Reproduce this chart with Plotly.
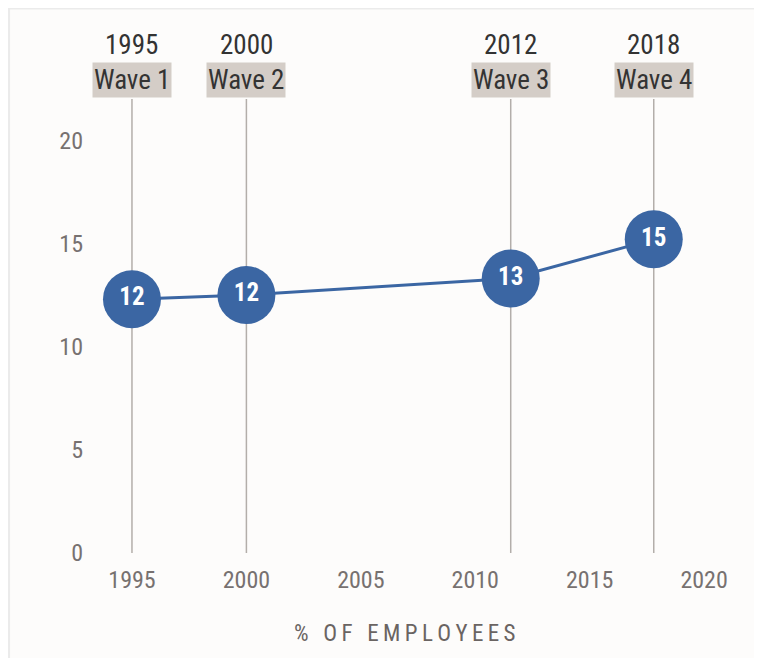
import plotly.graph_objects as go

years = [1995, 2000, 2011.55, 2017.8]
year_labels = ["1995", "2000", "2012", "2018"]
wave_labels = ["Wave 1", "Wave 2", "Wave 3", "Wave 4"]
values = [12.3, 12.5, 13.3, 15.2]
value_labels = ["12", "12", "13", "15"]
x_ticks = [1995, 2000, 2005, 2010, 2015, 2020]
y_ticks = [0, 5, 10, 15, 20]

FONT = "Roboto Condensed, Liberation Sans Narrow, Roboto, sans-serif"
BLUE = "#3b66a3"

OFF = 8  # page body margin
W, H = 762 - OFF, 658 - OFF
PX_PER_YEAR = 22.9
PLOT_LEFT = 86  # reference screen px
X_RANGE = [1995 - (132 - PLOT_LEFT) / PX_PER_YEAR, 2021.7]
ML = PLOT_LEFT - OFF
MT = 99 - OFF
MB = H - (553 - OFF)
pw = (X_RANGE[1] - X_RANGE[0]) * PX_PER_YEAR
MR = W - ML - pw
ph = H - MT - MB


def py(px):
    """reference screen y pixel -> paper coordinate"""
    return (553 - px) / ph


def pxp(px):
    return ((px - OFF) - ML) / pw


fig = go.Figure()
fig.add_trace(go.Scatter(
    x=years, y=values, mode="lines+markers+text",
    line=dict(color=BLUE, width=3),
    marker=dict(size=58, color=BLUE),
    text=value_labels, textposition="middle center",
    textfont=dict(family=FONT, size=25, color="white", weight="bold"),
    hoverinfo="skip", showlegend=False, cliponaxis=False,
))

shapes = []
shapes.append(dict(type="rect", xref="paper", yref="paper",
                   x0=pxp(9), x1=pxp(757), y0=py(700), y1=py(8.5),
                   line=dict(color="#ebebeb", width=2), fillcolor="#fdfcfb", layer="below"))
for x in years:
    shapes.append(dict(type="line", xref="x", yref="y", x0=x, x1=x, y0=0, y1=22,
                       line=dict(color="#b3aeaa", width=1.5), layer="below"))

annotations = []
for x, yl, wl in zip(years, year_labels, wave_labels):
    annotations.append(dict(x=x, xref="x", y=py(45), yref="paper",
                            text=yl, showarrow=False, yanchor="middle",
                            font=dict(family=FONT, size=27, color="#333333")))
    annotations.append(dict(x=x, xref="x", y=py(80), yref="paper",
                            text=wl, showarrow=False, yanchor="middle",
                            bgcolor="#d4cdc7", borderpad=1,
                            font=dict(family=FONT, size=27, color="#333333")))

title = "%\u2002\u2009" + "\u2009".join("OF") + "\u2002\u2009" + "\u2009".join("EMPLOYEES")
annotations.append(dict(x=pxp(405), xref="paper", y=py(633), yref="paper",
                        text=title, showarrow=False, yanchor="middle",
                        font=dict(family=FONT, size=23, color="#6a6462")))

fig.update_layout(
    width=W, height=H,
    margin=dict(l=ML, r=MR, t=MT, b=MB),
    paper_bgcolor="white", plot_bgcolor="rgba(0,0,0,0)",
    shapes=shapes, annotations=annotations,
    font=dict(family=FONT),
    xaxis=dict(range=X_RANGE, tickvals=x_ticks, ticktext=[str(t) for t in x_ticks],
               showgrid=False, zeroline=False, showline=False, ticks="",
               tickfont=dict(family=FONT, size=24, color="#777170"), ticklabelstandoff=10),
    yaxis=dict(range=[0, 22], tickvals=y_ticks, ticktext=[str(t) for t in y_ticks],
               showgrid=False, zeroline=False, showline=False, ticks="",
               tickfont=dict(family=FONT, size=24, color="#777170"), ticklabelstandoff=2),
)

fig.write_html("out.html")
